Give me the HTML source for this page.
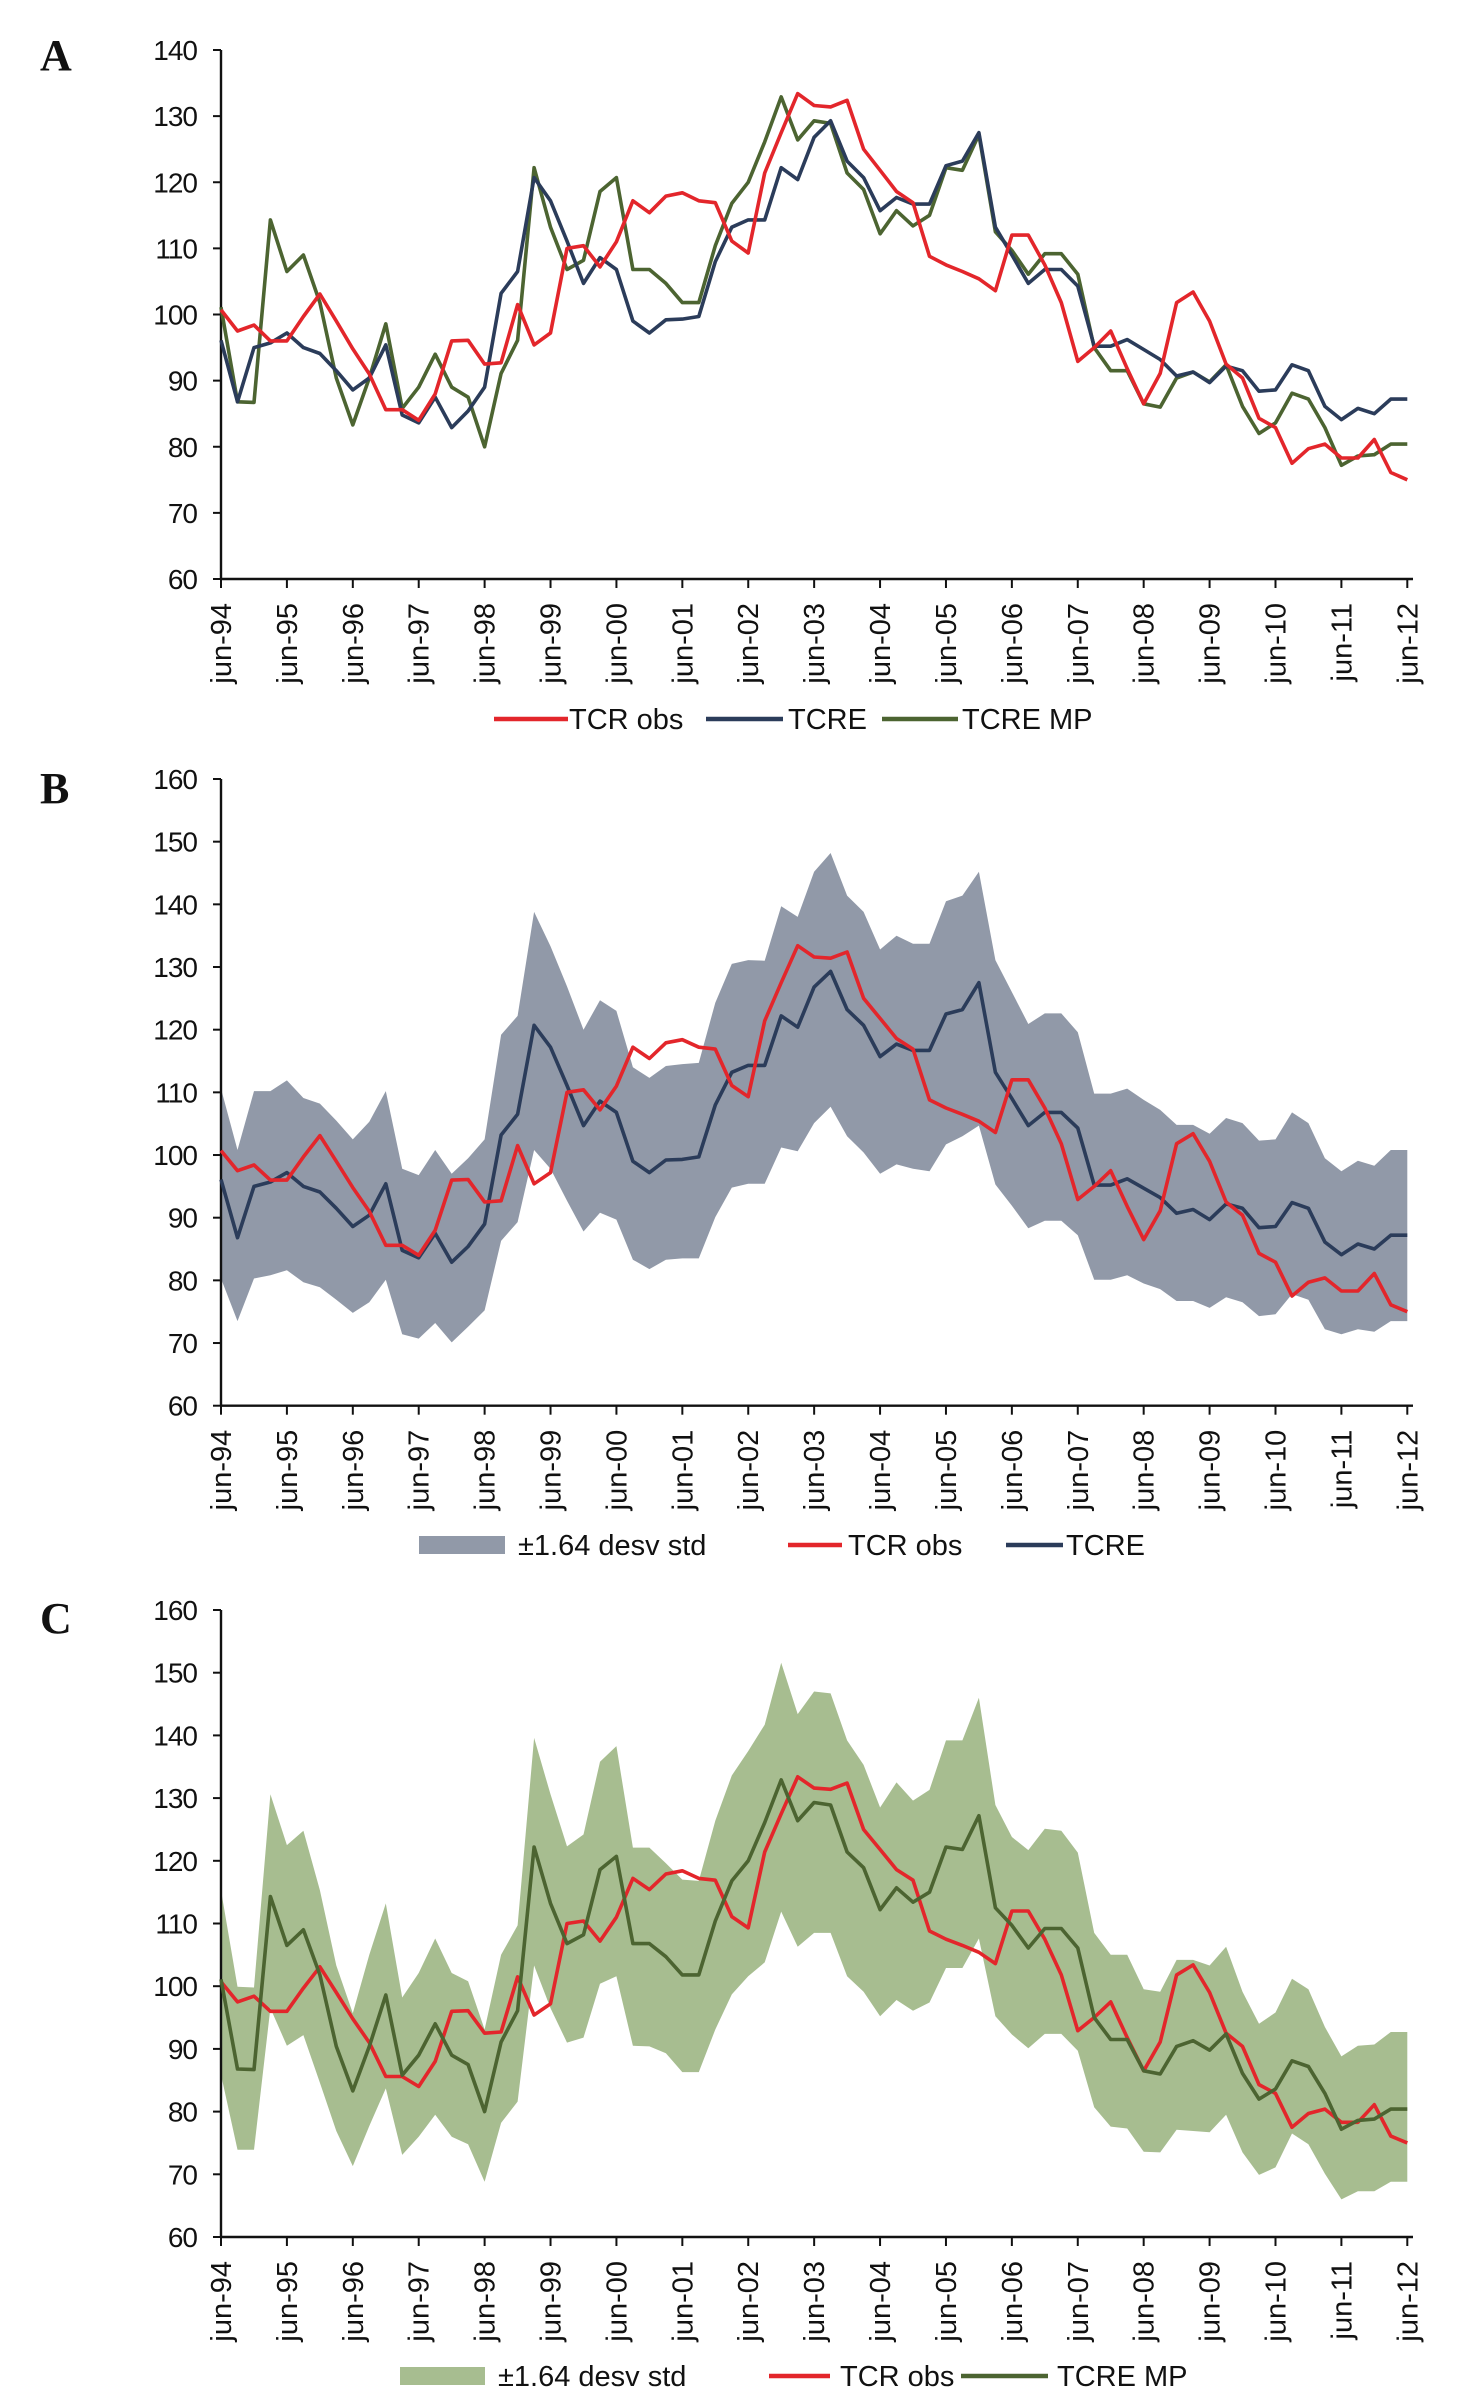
<!DOCTYPE html>
<html><head><meta charset="utf-8"><style>
html,body{margin:0;padding:0;background:#fff;}
svg{display:block;}
text{font-family:"Liberation Sans",Arial,sans-serif;fill:#111;}
.pl{font-family:"Liberation Serif",serif;font-weight:bold;font-size:44px;}
</style></head><body>
<svg id="fig" width="1483" height="2408" viewBox="0 0 1483 2408" xmlns="http://www.w3.org/2000/svg">
<text class="pl" x="40" y="70">A</text>
<text class="pl" x="40" y="803">B</text>
<text class="pl" x="40" y="1633">C</text>
</svg>
<script>
const xLabels=["jun-94","jun-95","jun-96","jun-97","jun-98","jun-99","jun-00","jun-01","jun-02","jun-03","jun-04","jun-05","jun-06","jun-07","jun-08","jun-09","jun-10","jun-11","jun-12"];
const tcrObs=[100.7,97.5,98.4,96,96,99.7,103.1,99,94.8,91,85.6,85.6,84,88,96,96.1,92.5,92.7,101.5,95.4,97.2,110,110.4,107.2,111,117.2,115.4,117.9,118.4,117.2,116.9,111.1,109.3,121.4,127.5,133.4,131.6,131.4,132.4,125,121.8,118.6,116.9,108.8,107.5,106.5,105.4,103.6,112,112,107.5,101.8,92.9,95,97.5,91.8,86.5,91.1,101.8,103.4,99,92.5,90.4,84.3,82.9,77.5,79.7,80.4,78.3,78.3,81.1,76.1,75];
const tcre=[96.1,86.8,95,95.7,97.2,95,94.1,91.5,88.6,90.4,95.4,84.8,83.6,87.5,82.9,85.4,89,103.2,106.5,120.7,117.2,111.1,104.7,108.6,106.8,99,97.2,99.2,99.3,99.7,108,113.2,114.3,114.3,122.2,120.4,126.8,129.3,123.2,120.7,115.7,117.7,116.7,116.7,122.5,123.2,127.5,113.2,109,104.7,106.8,106.8,104.3,95.2,95.2,96.2,94.7,93.2,90.7,91.3,89.7,92.2,91.5,88.4,88.6,92.4,91.5,86.1,84.1,85.8,85,87.2,87.2];
const tcreMP=[101.1,86.8,86.7,114.3,106.5,109,101.8,90.4,83.3,90.4,98.6,85.8,89,94,89,87.5,80,91.1,96.1,122.2,113.2,106.8,108.2,118.6,120.7,106.8,106.8,104.7,101.8,101.8,110.4,116.8,120,126.1,132.9,126.4,129.3,128.9,121.4,118.9,112.2,115.7,113.4,115,122.2,121.8,127.2,112.5,109.7,106.1,109.2,109.2,106.1,95,91.5,91.5,86.5,86,90.4,91.3,89.8,92.4,86.1,82,83.6,88.1,87.2,82.9,77.2,78.6,78.8,80.4,80.4];
const bandBUpper=[110.6,100.8,110.2,110.2,111.9,109.1,108.2,105.5,102.5,105.3,110.2,97.8,96.8,100.8,97,99.5,102.5,119.2,122.2,138.8,133.3,126.9,120,124.7,123,114,112.3,114.2,114.5,114.7,124.3,130.5,131.1,131,139.7,138,145.2,148.2,141.4,138.8,132.8,135,133.7,133.7,140.5,141.4,145.2,131.1,126,120.9,122.6,122.6,119.6,109.8,109.8,110.6,108.8,107.2,104.8,104.8,103.4,105.9,105.1,102.3,102.5,106.8,105.1,99.5,97.4,99.1,98.3,100.8,100.8];
const bandBLower=[80.3,73.5,80.3,80.8,81.6,79.7,78.9,76.9,74.8,76.5,80.1,71.4,70.7,73.2,70.1,72.6,75.2,86.3,89.3,100.8,97.8,92.7,87.8,90.8,89.7,83.3,81.8,83.3,83.5,83.5,90.1,94.8,95.4,95.4,101.2,100.6,105.1,107.7,103,100.4,97,98.5,97.8,97.4,101.7,103,104.7,95.3,91.9,88.3,89.5,89.5,87.2,80.1,80.1,80.8,79.5,78.6,76.7,76.7,75.6,77.3,76.5,74.3,74.6,77.8,76.9,72.2,71.4,72.2,71.8,73.5,73.5];
const bandCUpper=[115.3,99.9,99.8,130.6,122.5,124.8,115.3,103.3,95.7,105,113.2,98.2,102.1,107.6,102.1,100.8,93.1,105,109.7,139.6,130.6,122.3,124.2,135.8,138.3,122.1,122.1,119.6,117,116.8,126.4,133.6,137.5,141.7,151.6,143.4,147,146.7,139.2,135.3,128.5,132.5,129.6,131.3,139.2,139.2,146,128.9,123.8,121.7,125.1,124.8,121.3,108.5,105,105,99.5,99.1,104.2,104.2,103.3,106.3,99.1,94,95.8,101.2,99.5,93.5,88.8,90.5,90.7,92.7,92.7];
const bandCLower=[85.9,73.9,73.9,96.5,90.5,92.2,84.6,76.9,71.3,77.7,83.7,73.1,76,79.5,76,74.8,68.8,78.2,81.6,103.3,96.5,91,91.8,100.4,101.6,90.5,90.4,89.3,86.3,86.3,93.1,98.7,101.6,103.8,111.9,106.3,108.5,108.5,101.6,99.1,95.2,97.8,96.1,97.4,102.9,102.9,107.6,95.2,92.3,90.1,92.4,92.4,89.7,80.7,77.6,77.3,73.6,73.5,77.1,76.9,76.7,79.5,73.5,69.9,71.1,76.5,74.8,70.1,66,67.3,67.3,68.8,68.8];
const yTicksA=[60,70,80,90,100,110,120,130,140];
const yTicksBC=[60,70,80,90,100,110,120,130,140,150,160];

const NS="http://www.w3.org/2000/svg";
const svg=document.getElementById('fig');
const RED="#e3262b",NAVY="#2b3c5a",OLIVE="#4c6431",GRAYB="#9199a8",GREENB="#a7bd90";
function mk(tag,attrs,parent){const e=document.createElementNS(NS,tag);for(const k in attrs)e.setAttribute(k,attrs[k]);(parent||svg).appendChild(e);return e;}
const X0=221,X1=1407.3;
function xScale(i){return X0+(X1-X0)*i/72;}
function makeY(vmin,vmax,ybot,ytop){return v=>ybot-(v-vmin)/(vmax-vmin)*(ybot-ytop);}

function axes(g,y,ticks,ybot,ytop){
  const ax=mk('line',{x1:X0,y1:ytop,x2:X0,y2:ybot,stroke:"#111","stroke-width":2.4},g);
  
  
  const xa=mk('line',{x1:X0,y1:ybot,x2:1413,y2:ybot,stroke:"#111","stroke-width":2.4},g);
  
  
  ticks.forEach(v=>{
    const yy=y(v);
    mk('line',{x1:X0-8,y1:yy,x2:X0,y2:yy,stroke:"#111","stroke-width":2},g);
    const t=mk('text',{x:197,y:yy+10,"text-anchor":"end","font-size":28,"letter-spacing":"-1"},g);
    t.textContent=v;
    
    
  });
  xLabels.forEach((l,k)=>{
    const xx=xScale(k*4);
    mk('line',{x1:xx,y1:ybot,x2:xx,y2:ybot+9,stroke:"#111","stroke-width":2},g);
    const t=mk('text',{x:0,y:0,"text-anchor":"end","font-size":29,transform:`translate(${xx+10},${ybot+24}) rotate(-90)`},g);
    t.textContent=l;
    
    
  });
}
function line(g,data,y,color,name){
  const d=data.map((v,i)=>(i?'L':'M')+xScale(i).toFixed(1)+','+y(v).toFixed(1)).join(' ');
  const p=mk('path',{d:d,fill:"none",stroke:color,"stroke-width":3.6,"stroke-linejoin":"round"},g);
  
  
}
function band(g,up,lo,y,color,name){
  let d=up.map((v,i)=>(i?'L':'M')+xScale(i).toFixed(1)+','+y(v).toFixed(1)).join(' ');
  for(let i=lo.length-1;i>=0;i--)d+=' L'+xScale(i).toFixed(1)+','+y(lo[i]).toFixed(1);
  const p=mk('path',{d:d+' Z',fill:color,stroke:"none"},g);
  
  
}
function legLine(g,x1,x2,y,color,label,tx,name){
  const gg=mk('g',{},g);
  
  
  mk('line',{x1:x1,y1:y,x2:x2,y2:y,stroke:color,"stroke-width":4.5},gg);
  const t=mk('text',{x:tx,y:y+10,"font-size":29},gg);t.textContent=label;
}
function legBox(g,x1,x2,y,color,label,tx,name){
  const gg=mk('g',{},g);
  
  
  mk('rect',{x:x1,y:y-9,width:x2-x1,height:18,fill:color},gg);
  const t=mk('text',{x:tx,y:y+10,"font-size":29},gg);t.textContent=label;
}

// Panel A
const gA=mk('g',{});


const yA=makeY(60,140,579,50);
axes(gA,yA,yTicksA,579,50);
line(gA,tcreMP,yA,OLIVE,'line-tcre-mp');
line(gA,tcre,yA,NAVY,'line-tcre');
line(gA,tcrObs,yA,RED,'line-tcr-obs');
legLine(gA,494,568,719,RED,"TCR obs",569,'legend-tcr-obs');
legLine(gA,706,783,719,NAVY,"TCRE",788,'legend-tcre');
legLine(gA,882,958,719,OLIVE,"TCRE MP",962,'legend-tcre-mp');

// Panel B
const gB=mk('g',{});


const yB=makeY(60,160,1405.7,779);
band(gB,bandBUpper,bandBLower,yB,GRAYB,'band-b');
axes(gB,yB,yTicksBC,1405.7,779);
line(gB,tcre,yB,NAVY,'line-tcre');
line(gB,tcrObs,yB,RED,'line-tcr-obs');
legBox(gB,419,505,1545,GRAYB,"±1.64 desv std",518,'legend-band');
legLine(gB,788,842,1545,RED,"TCR obs",848,'legend-tcr-obs');
legLine(gB,1006,1063,1545,NAVY,"TCRE",1066,'legend-tcre');

// Panel C
const gC=mk('g',{});


const yC=makeY(60,160,2237,1610);
band(gC,bandCUpper,bandCLower,yC,GREENB,'band-c');
axes(gC,yC,yTicksBC,2237,1610);
line(gC,tcrObs,yC,RED,'line-tcr-obs');
line(gC,tcreMP,yC,OLIVE,'line-tcre-mp');
legBox(gC,400,485,2376,GREENB,"±1.64 desv std",498,'legend-band');
legLine(gC,769,830,2376,RED,"TCR obs",840,'legend-tcr-obs');
legLine(gC,961,1048,2376,OLIVE,"TCRE MP",1057,'legend-tcre-mp');
</script>
</body></html>
